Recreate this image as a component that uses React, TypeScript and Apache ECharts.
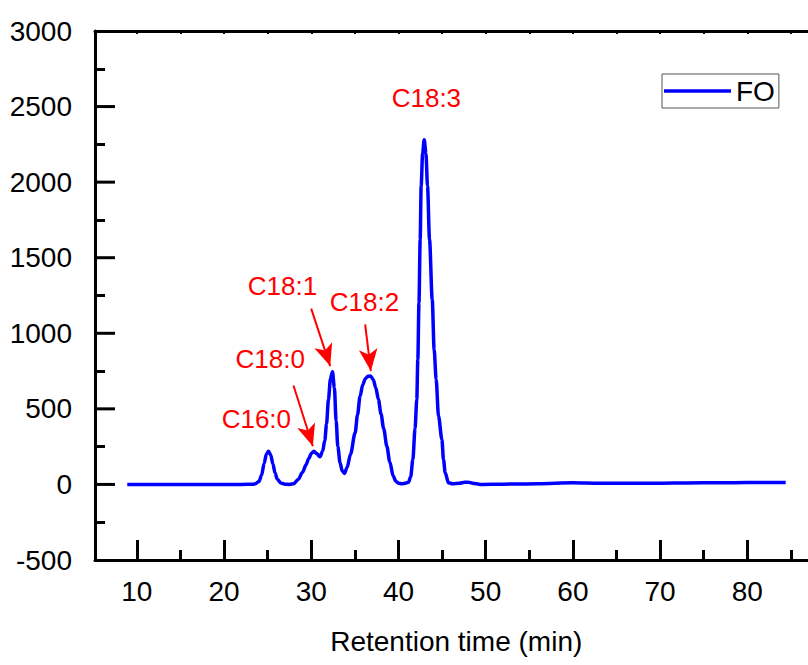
import React, { useEffect, useRef } from "react";
import * as echarts from "echarts";

const retentionTime = [8.9, 12, 16, 20, 22, 23.3, 23.6, 24.0, 24.3, 24.6, 24.85, 25.1, 25.35, 25.6, 25.85, 26.1, 26.5, 27.0, 27.5, 28.0, 28.5, 29.0, 29.4, 29.7, 30.0, 30.3, 30.6, 31.0, 31.3, 31.55, 31.75, 31.97, 32.2, 32.43, 32.65, 32.85, 33.05, 33.3, 33.55, 33.8, 34.1, 34.5, 35.03, 35.3, 35.6, 35.9, 36.2, 36.5, 36.8, 37.1, 37.4, 37.7, 38.0, 38.3, 38.67, 39.0, 39.4, 39.7, 40.0, 40.4, 40.8, 41.15, 41.4, 41.65, 41.9, 42.1, 42.22, 42.35, 42.49, 42.6, 42.77, 42.95, 43.15, 43.33, 43.56, 43.87, 44.09, 44.32, 44.59, 44.98, 45.16, 45.36, 45.73, 46.2, 47.0, 47.6, 48.0, 48.5, 49.4, 52, 56, 60, 63, 66.6, 70, 73, 76.9, 80, 84.4];
const signalFO = [0, 0, 0, 0, 0, 2, 4, 20, 60, 140, 200, 220, 195, 135, 75, 35, 10, 2, 0, 5, 33, 80, 130, 170, 205, 220, 205, 183, 220, 290, 400, 562, 700, 745, 640, 420, 250, 143, 90, 73, 110, 200, 342, 460, 584, 660, 700, 715, 717, 695, 640, 562, 466, 370, 253, 150, 55, 20, 8, 5, 8, 15, 50, 165, 370, 562, 827, 1200, 1621, 1974, 2190, 2280, 2190, 1974, 1621, 1224, 893, 695, 452, 298, 165, 77, 11, 5, 8, 14, 15, 8, 0, 2, 5, 11, 8, 7, 8, 10, 11, 12, 12];

const annotationLabels = ["C16:0", "C18:0", "C18:1", "C18:2", "C18:3"];
const annotationX = [23.7, 25.3, 26.7, 36.1, 43.2];
const annotationY = [430, 830, 1315, 1210, 2555];

const arrowFrom = [[27.96, 655], [29.99, 1163], [36.18, 1059]];
const arrowTo = [[30.18, 253], [32.17, 783], [36.83, 750]];

const xLabelValues = [10, 20, 30, 40, 50, 60, 70, 80];
const xMinorValues = [15, 25, 35, 45, 55, 65, 75, 85];
const xTopValues = [10, 15, 20, 25, 30, 35, 40, 45, 50, 55, 60, 65, 70, 75, 80, 85];
const yMajorTickValues = [0, 500, 1000, 1500, 2000, 2500];
const yMinorValues = [-250, 250, 750, 1250, 1750, 2250, 2750];

const FONT = "'Liberation Sans', Arial, sans-serif";

export default function App() {
  const ref = useRef<HTMLDivElement>(null);
  useEffect(() => {
    if (!ref.current) return;
    const chart = echarts.init(ref.current, null, { renderer: "svg" });
    const black = "#000";
    const red = "#ff0000";
    const xMin = 5.2;
    const xMax = 90;
    const option: any = {
      animation: false,
      backgroundColor: "#fff",
      textStyle: { fontFamily: FONT },
      grid: { left: 95, right: 25.5, top: 31, bottom: 105, containLabel: false },
      legend: {
        data: [{ name: "FO", icon: "rect" }],
        left: 662,
        top: 74,
        padding: [2, 4, 2, 2],
        itemWidth: 67,
        itemHeight: 3.5,
        borderColor: "#555",
        borderWidth: 1,
        borderRadius: 0,
        itemStyle: { color: "#0000ff" },
        textStyle: { fontSize: 28, color: black, fontFamily: FONT, lineHeight: 30 },
      },
      xAxis: [
        {
          type: "value",
          position: "bottom",
          min: xMin,
          max: xMax,
          name: "Retention time (min)",
          nameLocation: "middle",
          nameGap: 67,
          nameTextStyle: { fontSize: 28, color: black, fontFamily: FONT, padding: [0, 17, 0, 0] },
          axisLine: { show: true, onZero: false, lineStyle: { color: black, width: 3 } },
          axisTick: { show: true, inside: true, length: 20, lineStyle: { color: black, width: 3 }, customValues: xLabelValues },
          axisLabel: { show: true, fontSize: 28, color: black, margin: 17, fontFamily: FONT, customValues: xLabelValues },
          splitLine: { show: false },
        },
        {
          type: "value",
          position: "bottom",
          min: xMin,
          max: xMax,
          axisLine: { show: false, onZero: false },
          axisTick: { show: true, inside: true, length: 10, lineStyle: { color: black, width: 3 }, customValues: xMinorValues },
          axisLabel: { show: false },
          splitLine: { show: false },
        },
        {
          type: "value",
          position: "top",
          min: xMin,
          max: xMax,
          axisLine: { show: true, onZero: false, lineStyle: { color: black, width: 3 } },
          axisTick: { show: true, inside: true, length: 3, lineStyle: { color: black, width: 2 }, customValues: xTopValues },
          axisLabel: { show: false },
          splitLine: { show: false },
        },
      ],
      yAxis: [
        {
          type: "value",
          position: "left",
          min: -500,
          max: 3000,
          interval: 500,
          axisLine: { show: true, onZero: false, lineStyle: { color: black, width: 3 } },
          axisTick: { show: false },
          axisLabel: { fontSize: 28, color: black, margin: 23, fontFamily: FONT, formatter: (v: number) => String(v) },
          splitLine: { show: false },
        },
        {
          type: "value",
          position: "left",
          min: -500,
          max: 3000,
          axisLine: { show: false, onZero: false },
          axisTick: { show: true, inside: true, length: 10, lineStyle: { color: black, width: 3 }, customValues: yMinorValues },
          axisLabel: { show: false },
          splitLine: { show: false },
        },
      ],
      series: [
        {
          name: "FO",
          type: "line",
          xAxisIndex: 0,
          yAxisIndex: 0,
          data: retentionTime.map((t, i) => [t, signalFO[i]]),
          showSymbol: false,
          symbol: "none",
          smooth: 0.3,
          smoothMonotone: "x",
          lineStyle: { color: "#0000ff", width: 3.5 },
          itemStyle: { color: "#0000ff" },
        },
        {
          name: "annotations",
          type: "scatter",
          xAxisIndex: 0,
          yAxisIndex: 0,
          silent: true,
          symbolSize: 0,
          itemStyle: { color: red, opacity: 1 },
          data: annotationLabels.map((n, i) => [annotationX[i], annotationY[i], n]),
          label: {
            show: true,
            position: "inside",
            formatter: (p: any) => p.data[2],
            fontSize: 26,
            color: red,
            opacity: 1,
            fontFamily: FONT,
            align: "center",
            verticalAlign: "middle",
          },
          markLine: {
            silent: true,
            symbol: ["none", "arrow"],
            symbolSize: [14, 22],
            label: { show: false },
            itemStyle: { color: red, opacity: 1 },
            lineStyle: { color: red, width: 2, type: "solid", opacity: 1 },
            data: arrowFrom.map((f, i) => [
              { coord: f },
              { coord: arrowTo[i] },
            ]),
          },
        },
      ],
    };
    chart.setOption(option);

    // Major y ticks placed through the axis scale (value -> pixel)
    const tickLines = yMajorTickValues.map((v) => {
      const p = chart.convertToPixel({ xAxisIndex: 0, yAxisIndex: 0 }, [xMin, v]) as number[];
      return {
        type: "line",
        z: 100,
        silent: true,
        shape: { x1: p[0], y1: p[1], x2: p[0] + 20, y2: p[1] },
        style: { stroke: black, lineWidth: 3 },
      };
    });
    chart.setOption({ graphic: tickLines });

    return () => chart.dispose();
  }, []);
  return (
    <div style={{ position: "fixed", left: 0, top: 0, width: 808, height: 665, overflow: "hidden", background: "#fff" }}>
      <div ref={ref} style={{ width: 860, height: 665 }} />
    </div>
  );
}
